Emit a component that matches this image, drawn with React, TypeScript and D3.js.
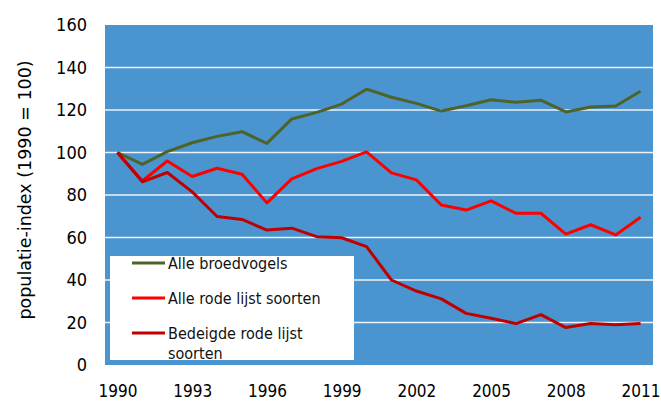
import React, { useEffect, useRef } from 'react';
import * as d3 from 'd3';

const years = d3.range(1990, 2012);
const tickYears = [1990, 1993, 1996, 1999, 2002, 2005, 2008, 2011];
const yTicks = [0, 20, 40, 60, 80, 100, 120, 140, 160];

const alleBroedvogels = [100, 94.4, 100.4, 104.6, 107.6, 109.8, 104.3, 115.8, 118.9, 122.8, 129.8, 126, 123.1, 119.5, 122, 124.8, 123.6, 124.6, 119.1, 121.4, 121.9, 128.8];
const alleRodeLijst = [100, 86.6, 96, 88.7, 92.6, 89.8, 76.3, 87.6, 92.4, 95.8, 100.3, 90.4, 87.1, 75.3, 72.9, 77.2, 71.4, 71.4, 61.6, 66, 61.2, 69.5];
const bedreigdeRodeLijst = [100, 86.2, 90.6, 81.5, 69.9, 68.5, 63.5, 64.4, 60.4, 59.9, 55.7, 40, 34.8, 31.1, 24.3, 22, 19.5, 23.7, 17.6, 19.5, 18.9, 19.5];

const seriesNames = ['Alle broedvogels', 'Alle rode lijst soorten', 'Bedeigde rode lijst soorten'];
const seriesValues = [alleBroedvogels, alleRodeLijst, bedreigdeRodeLijst];
const colors = ['#4f6228', '#ff0000', '#c00000'];

const App = () => {
    const svgRef = useRef<SVGSVGElement | null>(null);
    const width = 661;
    const height = 401;

    useEffect(() => {
        if (!svgRef.current) return;
        const svg = d3.select(svgRef.current);
        svg.selectAll('*').remove();

        const margin = { top: 25, right: 8, bottom: 36, left: 105 };
        const font = 'DejaVu Sans Condensed, DejaVu Sans, sans-serif';

        const x = d3.scalePoint<number>()
            .domain(years)
            .range([margin.left, width - margin.right])
            .padding(0.5);

        const y = d3.scaleLinear()
            .domain([0, 160])
            .range([height - margin.bottom, margin.top]);

        // plot background
        svg.append('rect')
            .attr('x', margin.left)
            .attr('y', margin.top)
            .attr('width', width - margin.left - margin.right)
            .attr('height', height - margin.top - margin.bottom)
            .attr('fill', '#4a95d0');

        // gridlines
        svg.append('g')
            .selectAll('line')
            .data(yTicks.filter(d => d > 0 && d < 160))
            .join('line')
            .attr('x1', margin.left)
            .attr('x2', width - margin.right)
            .attr('y1', d => y(d))
            .attr('y2', d => y(d))
            .attr('stroke', '#eef3f8')
            .attr('stroke-width', 1.5);

        // y axis labels
        svg.append('g')
            .attr('transform', `translate(${margin.left - 18},0)`)
            .call(d3.axisLeft(y).tickValues(yTicks).tickSize(0).tickPadding(0))
            .call(g => g.select('.domain').remove())
            .selectAll('text')
            .attr('fill', '#000')
            .style('font-family', font)
            .style('font-size', '18px');

        // x axis labels
        svg.append('g')
            .attr('transform', `translate(0,${height - margin.bottom})`)
            .call(d3.axisBottom(x).tickValues(tickYears).tickSize(0).tickPadding(20).tickFormat(d3.format('d')))
            .call(g => g.select('.domain').remove())
            .selectAll('text')
            .attr('fill', '#000')
            .style('font-family', font)
            .style('font-size', '17px');

        // y axis title
        svg.append('text')
            .attr('transform', `translate(31,${(margin.top + height - margin.bottom) / 2 - 5}) rotate(-90)`)
            .attr('text-anchor', 'middle')
            .style('font-family', 'DejaVu Sans, sans-serif')
            .style('font-size', '17.5px')
            .text('populatie-index (1990 = 100)');

        // legend box
        const legend = svg.append('g');
        legend.append('rect')
            .attr('x', 110)
            .attr('y', 256)
            .attr('width', 244)
            .attr('height', 104)
            .attr('fill', '#fff');

        // lines
        seriesValues.forEach((vals, i) => {
            const line = d3.line<number>()
                .x((d, j) => x(years[j]) as number)
                .y(d => y(d));
            svg.append('path')
                .datum(vals)
                .attr('fill', 'none')
                .attr('stroke', colors[i])
                .attr('stroke-width', 3)
                .attr('stroke-linejoin', 'round')
                .attr('d', line);
        });

        const rowY = [263, 298, 333];
        seriesNames.forEach((name, i) => {
            const row = legend.append('g').attr('transform', `translate(132,${rowY[i]})`);
            row.append('line')
                .attr('x1', 0).attr('x2', 33)
                .attr('stroke', colors[i])
                .attr('stroke-width', 3);
            const text = row.append('text')
                .attr('x', 36)
                .attr('y', 5.5)
                .style('font-family', font)
                .style('font-size', '16px')
                .attr('fill', '#111');
            if (i === 2) {
                text.append('tspan').attr('x', 36).text('Bedeigde rode lijst');
                text.append('tspan').attr('x', 36).attr('dy', 20).text('soorten');
            } else {
                text.text(name);
            }
        });
    }, []);

    return (
        <svg
            ref={svgRef}
            width={width}
            height={height}
            style={{ position: 'absolute', left: 0, top: 0, background: '#fff' }}
        />
    );
};

export default App;
